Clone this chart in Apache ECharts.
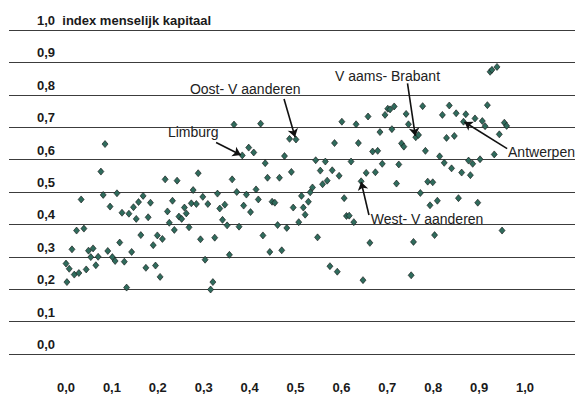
<!DOCTYPE html>
<html>
<head>
<meta charset="utf-8">
<script src="https://cdn.jsdelivr.net/npm/echarts@6/dist/echarts.min.js"></script>
<style>
html,body{margin:0;padding:0;background:#fff;}
#c{width:579px;height:405px;}
</style>
</head>
<body>
<div id="c"></div>
<script>
// Ticks
const xTicks = [0, 0.1, 0.2, 0.3, 0.4, 0.5, 0.6, 0.7, 0.8, 0.9, 1.0];
const xTickLabels = ['0,0','0,1','0,2','0,3','0,4','0,5','0,6','0,7','0,8','0,9','1,0'];
const yTickLabels = ['0,0','0,1','0,2','0,3','0,4','0,5','0,6','0,7','0,8','0,9','1,0  index menselijk kapitaal'];

// Municipalities: x and y values
const pointX = [
0.076,0.216,0.242,0.288,0.277,0.081,0.111,0.033,0.096,0.122,0.137,0.147,0.158,0.168,0.184,0.153,0.179,0.232,0.221,0.258,0.273,0.284,0.298,0.309,0.262,0.246,0.252,0.225,0.236,0.268,0.293,0.324,0.023,0.039,0.163,0.117,0.199,0.210,0.190,0.013,0.049,0.059,0.054,0.070,0.091,0.101,0.107,0.143,0.127,0.000,0.007,0.018,0.028,0.044,0.065,0.002,0.132,0.174,0.195,0.205,0.303,0.320,0.315,0.085,
0.362,0.439,0.465,0.491,0.330,0.372,0.393,0.414,0.419,0.449,0.455,0.335,0.346,0.387,0.402,0.341,0.351,0.377,0.461,0.481,0.429,0.356,0.444,0.470,
0.495,0.517,0.521,0.507,0.513,0.528,0.537,0.532,0.554,0.580,0.595,0.569,0.559,0.654,0.674,0.643,0.720,0.788,0.799,0.840,0.862,0.881,0.606,0.611,0.617,0.627,0.772,0.793,0.809,0.855,0.897,0.548,0.662,0.757,0.803,0.950,0.575,0.591,0.647,0.752,
0.366,0.424,0.487,0.501,0.384,0.398,0.409,0.434,0.476,0.544,0.565,0.601,0.632,0.658,0.585,0.637,0.621,0.695,0.701,0.706,0.715,0.741,0.746,0.777,0.684,0.710,0.731,0.736,0.762,0.768,0.668,0.679,0.783,0.689,0.725,0.814,0.824,0.829,0.846,0.820,0.835,0.850,0.866,0.871,0.891,0.907,0.913,0.918,0.924,0.928,0.939,0.955,0.960,0.944,0.933,0.877,0.902,0.886
];
const pointY = [
0.563,0.539,0.535,0.558,0.506,0.491,0.496,0.477,0.455,0.436,0.433,0.453,0.469,0.488,0.467,0.417,0.422,0.473,0.440,0.452,0.465,0.463,0.485,0.463,0.434,0.424,0.417,0.405,0.383,0.391,0.354,0.359,0.381,0.387,0.367,0.344,0.366,0.355,0.336,0.323,0.319,0.326,0.299,0.300,0.318,0.299,0.287,0.315,0.285,0.279,0.263,0.245,0.250,0.261,0.274,0.222,0.205,0.266,0.273,0.238,0.291,0.222,0.199,0.648,
0.539,0.544,0.544,0.562,0.495,0.500,0.492,0.508,0.477,0.470,0.467,0.449,0.461,0.458,0.438,0.414,0.397,0.393,0.398,0.389,0.366,0.306,0.315,0.320,
0.452,0.452,0.430,0.407,0.488,0.470,0.514,0.499,0.566,0.567,0.550,0.535,0.524,0.559,0.561,0.533,0.526,0.532,0.530,0.573,0.560,0.552,0.481,0.426,0.427,0.407,0.497,0.459,0.473,0.481,0.467,0.360,0.343,0.346,0.367,0.381,0.271,0.254,0.228,0.243,
0.708,0.711,0.664,0.662,0.613,0.637,0.622,0.589,0.611,0.598,0.594,0.717,0.709,0.733,0.651,0.651,0.594,0.738,0.757,0.755,0.764,0.741,0.709,0.765,0.685,0.694,0.650,0.640,0.669,0.676,0.625,0.627,0.627,0.587,0.585,0.610,0.590,0.667,0.673,0.738,0.767,0.743,0.717,0.740,0.727,0.719,0.703,0.768,0.871,0.877,0.886,0.714,0.704,0.678,0.616,0.597,0.601,0.587
];

// Province annotations: label text, label anchor, arrow start, arrow end (data units)
const provinceNames = ['Limburg','Oost- V aanderen','V aams- Brabant','Antwerpen','West- V aanderen'];
const labelAnchors = [[0.222,0.684],[0.270,0.818],[0.586,0.858],[0.963,0.623],[0.664,0.417]];
const arrowFrom = [[0.327,0.653],[0.475,0.787],[0.744,0.835],[0.961,0.634],[0.660,0.429]];
const arrowTo = [[0.381,0.614],[0.499,0.670],[0.761,0.673],[0.868,0.716],[0.643,0.531]];

const chart = echarts.init(document.getElementById('c'), null, {renderer:'svg'});
const data = pointX.map((x,i)=>[x, pointY[i]]);
const FONT = '"Liberation Sans", Arial, Helvetica, sans-serif';

chart.setOption({
  animation:false,
  backgroundColor:'#fff',
  grid:{left:9, right:4, top:30, bottom:51},
  xAxis:{
    type:'value', min:-0.1242, max:1.1089,
    axisLine:{show:false}, axisTick:{show:false}, splitLine:{show:false},
    axisLabel:{
      customValues:xTicks,
      formatter:(v)=>{const i=Math.round(v*10); return xTickLabels[i];},
      margin:27, color:'#1a1a1a', fontWeight:'bold', fontSize:13, fontFamily:FONT
    }
  },
  yAxis:{
    type:'value', min:0, max:1, interval:0.1,
    axisLine:{show:false}, axisTick:{show:false},
    splitLine:{show:true, lineStyle:{color:'#3c3c3c', width:1.2}},
    axisLabel:{
      inside:true, margin:28, align:'left', verticalAlign:'bottom',
      padding:[0,0,3,0],
      formatter:(v)=>yTickLabels[Math.round(v*10)],
      color:'#1a1a1a', fontWeight:'bold', fontSize:13, fontFamily:FONT
    }
  },
  series:[{
    type:'scatter',
    data:data,
    symbol:'diamond',
    symbolSize:[6,7],
    itemStyle:{color:'#2f6b5c', borderColor:'#111', borderWidth:0.6, opacity:1},
    silent:true,
    markLine:{
      silent:true,
      symbol:['none','arrow'],
      symbolSize:8,
      label:{show:false},
      lineStyle:{color:'#111', width:1.6, type:'solid'},
      data: arrowFrom.map((f,i)=>[{coord:f},{coord:arrowTo[i]}])
    }
  }]
});

const graphics = provinceNames.map((name,i)=>{
  const p = chart.convertToPixel({gridIndex:0}, labelAnchors[i]);
  return {type:'text', x:p[0], y:p[1], style:{text:name, fill:'#222', font:'14px '+FONT, textVerticalAlign:'middle', verticalAlign:'middle', textAlign:'left'}};
});
chart.setOption({graphic:graphics});
</script>
</body>
</html>
